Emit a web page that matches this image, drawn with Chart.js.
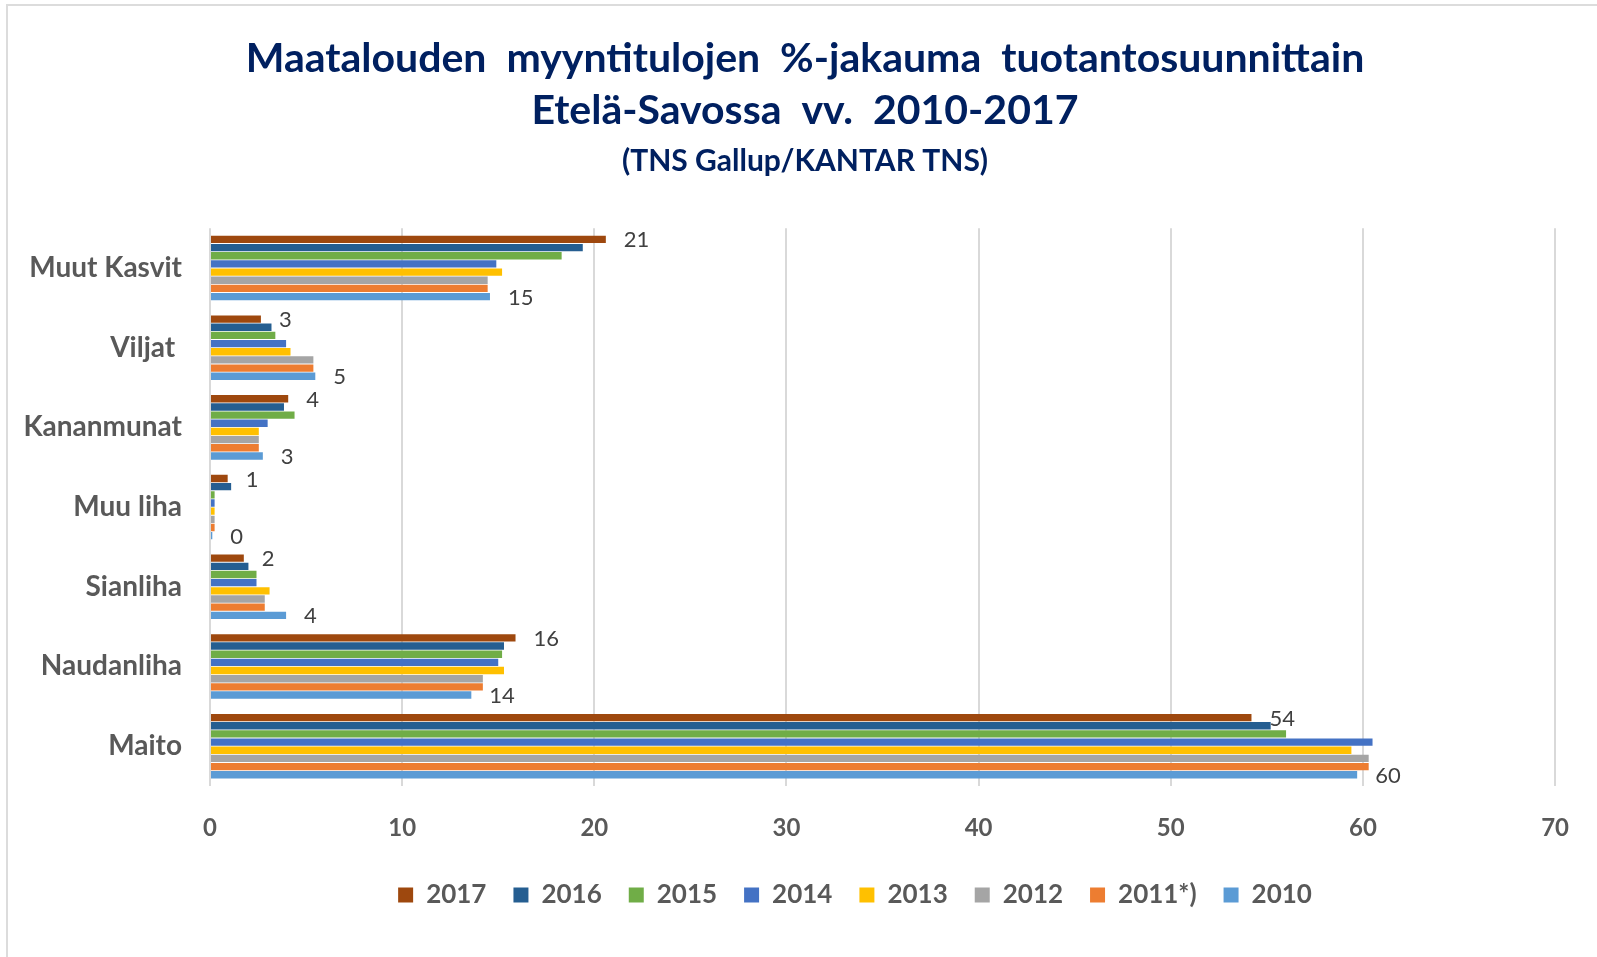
<!DOCTYPE html>
<html>
<head>
<meta charset="utf-8">
<script src="https://cdn.jsdelivr.net/npm/chart.js@4.4.1/dist/chart.umd.min.js"></script>
<style>
  html, body { margin: 0; padding: 0; background: #ffffff; }
  #wrap { position: relative; width: 1597px; height: 957px; }
  #frame { position: absolute; left: 6px; top: 4px; right: 0; bottom: 0; border-top: 2px solid #dcdcdc; border-left: 2px solid #dcdcdc; pointer-events: none; }
  canvas { position: absolute; left: 0; top: 0; }
</style>
</head>
<body>
<div id="wrap">
  <canvas id="c" width="1597" height="957"></canvas>
  <div id="frame"></div>
</div>
<script>
const categories = ["Muut Kasvit", "Viljat ", "Kananmunat", "Muu liha", "Sianliha", "Naudanliha", "Maito"];
const seriesNames = ["2017", "2016", "2015", "2014", "2013", "2012", "2011*)", "2010"];
const v2017 = [20.6, 2.65, 4.07, 0.92, 1.76, 15.9, 54.2];
const v2016 = [19.4, 3.2, 3.85, 1.1, 2.0, 15.3, 55.2];
const v2015 = [18.3, 3.4, 4.4, 0.24, 2.42, 15.2, 56.0];
const v2014 = [14.9, 3.96, 3.0, 0.24, 2.42, 15.0, 60.5];
const v2013 = [15.2, 4.19, 2.54, 0.24, 3.1, 15.3, 59.4];
const v2012 = [14.45, 5.38, 2.54, 0.24, 2.85, 14.2, 60.3];
const v2011 = [14.45, 5.38, 2.54, 0.24, 2.85, 14.2, 60.3];
const v2010 = [14.57, 5.48, 2.75, 0.12, 3.96, 13.6, 59.7];
const seriesValues = [v2017, v2016, v2015, v2014, v2013, v2012, v2011, v2010];
const seriesColors = ["#9E480E", "#255E91", "#70AD47", "#4472C4", "#FFC000", "#A5A5A5", "#ED7D31", "#5B9BD5"];
const xTicks = [0, 10, 20, 30, 40, 50, 60, 70];
const labelledSeries = ["2017", "2010"];

const FONT = "Lato, 'Open Sans', sans-serif";

const datasets = seriesNames.map((name, i) => ({
  label: name,
  data: seriesValues[i],
  backgroundColor: seriesColors[i],
  borderWidth: 0,
  categoryPercentage: 0.82,
  barPercentage: 0.9
}));

const endLabels = {
  id: 'endLabels',
  afterDatasetsDraw(chart) {
    const ctx = chart.ctx;
    ctx.save();
    ctx.font = "22px " + FONT;
    ctx.fillStyle = "#404040";
    ctx.textAlign = "left";
    ctx.textBaseline = "middle";
    chart.data.datasets.forEach((ds, di) => {
      if (!labelledSeries.includes(ds.label)) return;
      const meta = chart.getDatasetMeta(di);
      meta.data.forEach((bar, j) => {
        ctx.fillText(String(Math.round(ds.data[j])), bar.x + 18, bar.y + 1);
      });
    });
    ctx.restore();
  }
};

// nudge the full-width boxes (titles, legend) horizontally like the reference
const boxShift = {
  id: 'boxShift',
  afterLayout(chart) {
    const shifts = [[chart.legend, 71], [chart.titleBlock, 21]];
    chart.boxes.forEach(b => {
      if (b !== chart.legend && b !== chart.titleBlock && b.options && b.options.text && !b.axis) {
        b.left += 21; b.right += 21;
      }
    });
    shifts.forEach(([b, dx]) => { if (b) { b.left += dx; b.right += dx; } });
  }
};

new Chart(document.getElementById('c'), {
  type: 'bar',
  data: { labels: categories, datasets: datasets },
  plugins: [endLabels, boxShift],
  options: {
    indexAxis: 'y',
    responsive: false,
    animation: false,
    layout: { padding: { left: 0, right: 29, top: 0, bottom: 39 } },
    scales: {
      x: {
        min: 0, max: 70,
        afterBuildTicks(scale) { scale.ticks = xTicks.map(v => ({ value: v })); },
        afterFit(scale) { scale.height = 69; },
        grid: { color: "#d9d9d9", lineWidth: 2, drawTicks: false },
        border: { display: false },
        ticks: { color: "#595959", font: { family: FONT, size: 24, weight: 'bold' }, padding: 28 }
      },
      y: {
        grid: { display: false, drawTicks: false },
        border: { display: false },
        afterFit(scale) { scale.width = 210; },
        ticks: { color: "#595959", font: { family: FONT, size: 28, weight: 'bold' }, padding: 28 }
      }
    },
    plugins: {
      title: {
        display: true,
        text: ["Maatalouden  myyntitulojen  %-jakauma  tuotantosuunnittain", "Etelä-Savossa  vv.  2010-2017"],
        color: "#002060",
        font: { family: FONT, size: 41, weight: 'bold', lineHeight: 1.27 },
        padding: { top: 33, bottom: 0 }
      },
      subtitle: {
        display: true,
        text: "(TNS Gallup/KANTAR TNS)",
        color: "#002060",
        font: { family: FONT, size: 30, weight: 'bold', lineHeight: 1.2 },
        padding: { top: 6, bottom: 49 }
      },
      legend: {
        position: 'bottom',
        labels: {
          color: "#595959",
          font: { family: FONT, size: 26, weight: 'bold' },
          boxWidth: 15, boxHeight: 15,
          padding: 27
        }
      },
      tooltip: { enabled: false }
    }
  }
});
</script>
</body>
</html>
